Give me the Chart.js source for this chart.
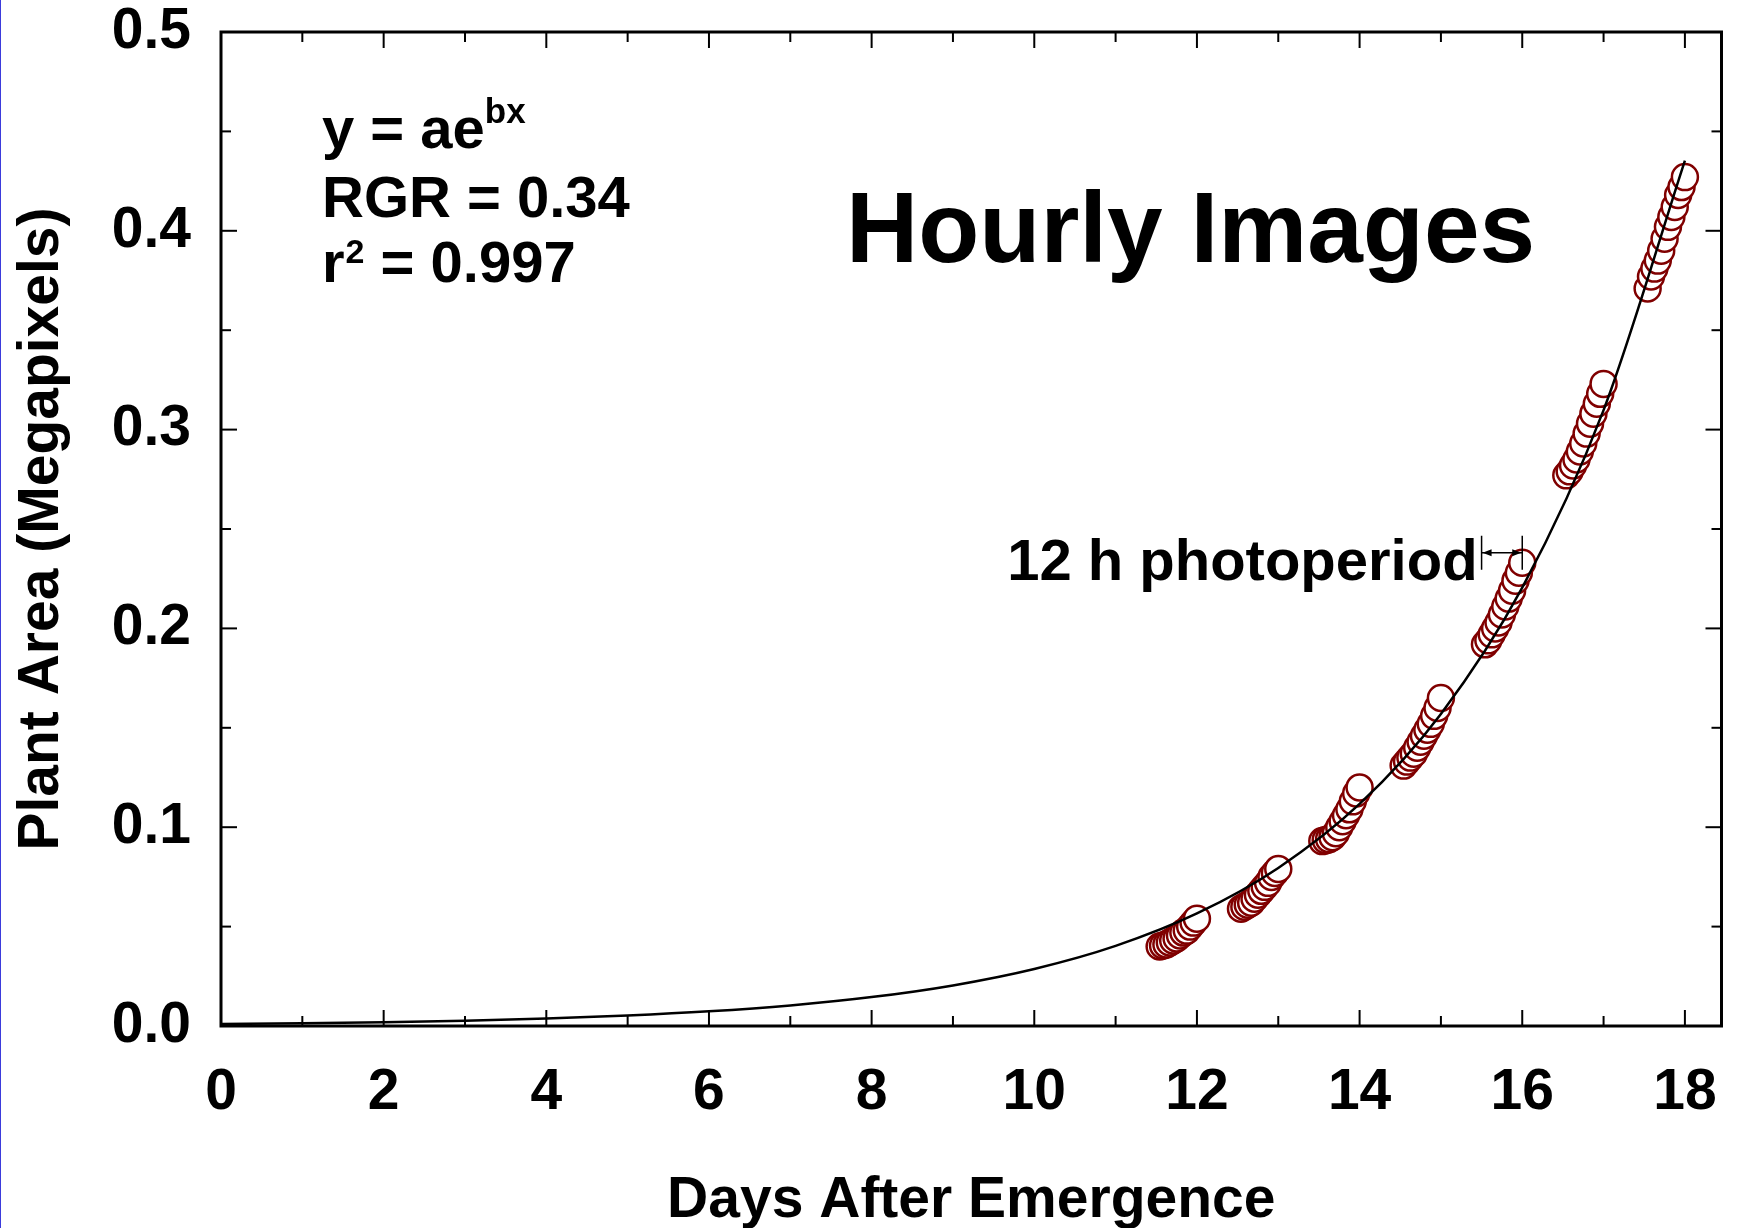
<!DOCTYPE html>
<html>
<head>
<meta charset="utf-8">
<title>Plant Area - Hourly Images</title>
<script src="https://cdn.jsdelivr.net/npm/chart.js@4.4.1/dist/chart.umd.min.js"></script>
<style>
  html, body { margin: 0; padding: 0; background: #fff; }
  #wrap { position: relative; width: 1737px; height: 1228px; }
  #edge { position: absolute; left: 0; top: 0; width: 1px; height: 1228px; background: #3b3bdc; }
</style>
</head>
<body>
<div id="wrap">
  <canvas id="growth"></canvas>
  <div id="edge"></div>
</div>
<script>
// axis ticks
const dayTicks = [0, 2, 4, 6, 8, 10, 12, 14, 16, 18];
const areaTicks = [0, 0.1, 0.2, 0.3, 0.4, 0.5];

// images were taken hourly during the light period of each day
const imageDays = [11, 12, 13, 14, 15, 16, 17];
const imageHours = [13, 14, 15, 16, 17, 18, 19, 20, 21, 22, 23, 24];

// plant area (megapixels), one list per day
const day11Area = [0.040, 0.0405, 0.041, 0.042, 0.043, 0.044, 0.0455, 0.047, 0.048, 0.050, 0.052, 0.054];
const day12Area = [0.059, 0.060, 0.061, 0.062, 0.064, 0.066, 0.068, 0.070, 0.072, 0.075, 0.077, 0.079];
const day13Area = [0.093, 0.0935, 0.094, 0.095, 0.097, 0.100, 0.103, 0.106, 0.109, 0.113, 0.117, 0.120];
const day14Area = [0.131, 0.133, 0.135, 0.137, 0.140, 0.143, 0.146, 0.149, 0.152, 0.156, 0.160, 0.165];
const day15Area = [0.192, 0.194, 0.197, 0.200, 0.203, 0.207, 0.211, 0.215, 0.219, 0.224, 0.228, 0.233];
const day16Area = [0.277, 0.279, 0.282, 0.285, 0.289, 0.293, 0.298, 0.303, 0.308, 0.313, 0.318, 0.323];
const day17Area = [0.371, 0.377, 0.381, 0.385, 0.390, 0.396, 0.402, 0.407, 0.412, 0.418, 0.422, 0.427];
const areaByDay = [day11Area, day12Area, day13Area, day14Area, day15Area, day16Area, day17Area];

// exponential fit y = a*e^(bx)
const fitDays = [0, 1, 2, 3, 4, 5, 6, 7, 8, 9, 10, 11, 12, 13, 14, 15, 16, 17, 18];
const fitArea = [0.00096, 0.00134, 0.00189, 0.00265, 0.00373, 0.00524, 0.00736, 0.01034, 0.01453,
  0.02041, 0.02868, 0.04029, 0.05660, 0.07952, 0.1117, 0.1570, 0.2205, 0.3098, 0.4353];

// span of one 12 h light period (days) and the level of its marker
const photoperiodSpan = [15.5, 16.0];
const photoperiodLevel = 0.238;

const FONT = '"Liberation Sans", Arial, Helvetica, sans-serif';
const bold = size => `bold ${size}px ${FONT}`;

const points = [];
imageDays.forEach((day, i) => {
  imageHours.forEach((h, j) => points.push({ x: day + h / 24, y: areaByDay[i][j] }));
});
const curve = fitDays.map((d, i) => ({ x: d, y: fitArea[i] }));

// closed frame with inward major/minor ticks on all four sides
const frame = {
  id: 'frame',
  afterDatasetsDraw(chart) {
    const { ctx, chartArea: a, scales: { x, y } } = chart;
    ctx.save();
    ctx.strokeStyle = '#000';
    ctx.lineWidth = 2;
    const seg = (x1, y1, x2, y2) => {
      ctx.beginPath();
      ctx.moveTo(x1, y1);
      ctx.lineTo(x2, y2);
      ctx.stroke();
    };
    for (let d = 0; d <= 18; d++) {
      const len = dayTicks.includes(d) ? 16 : 10;
      const px = x.getPixelForValue(d);
      seg(px, a.bottom, px, a.bottom - len);
      seg(px, a.top, px, a.top + len);
    }
    for (let i = 0; i <= 10; i++) {
      const len = i % 2 === 0 ? 16 : 10;
      const py = y.getPixelForValue(i * 0.05);
      seg(a.left, py, a.left + len, py);
      seg(a.right, py, a.right - len, py);
    }
    ctx.lineWidth = 3;
    ctx.strokeRect(a.left, a.top, a.right - a.left, a.bottom - a.top);
    ctx.restore();
  }
};

// fit statistics, panel title and photoperiod marker
const notes = {
  id: 'notes',
  afterDraw(chart) {
    const { ctx, chartArea: a, scales: { x, y } } = chart;
    ctx.save();
    ctx.fillStyle = '#000';
    ctx.strokeStyle = '#000';
    ctx.textBaseline = 'alphabetic';
    ctx.textAlign = 'left';

    const left = a.left + 101;
    ctx.font = bold(58);
    ctx.fillText('y = ae', left, a.top + 116);
    let w = ctx.measureText('y = ae').width;
    ctx.font = bold(35);
    ctx.fillText('bx', left + w, a.top + 91);

    ctx.font = bold(58);
    ctx.fillText('RGR = 0.34', left, a.top + 185);

    ctx.fillText('r', left, a.top + 250);
    w = ctx.measureText('r').width;
    ctx.font = bold(34);
    ctx.fillText('2', left + w + 1, a.top + 231);
    const w2 = ctx.measureText('2').width;
    ctx.font = bold(58);
    ctx.fillText(' = 0.997', left + w + 1 + w2, a.top + 250);

    ctx.font = bold(100);
    ctx.fillText('Hourly Images', a.left + 625, a.top + 230);

    // 12 h marker: |<-->| spanning the light period
    const x1 = x.getPixelForValue(photoperiodSpan[0]);
    const x2 = x.getPixelForValue(photoperiodSpan[1]);
    const py = y.getPixelForValue(photoperiodLevel);
    ctx.lineWidth = 1.5;
    ctx.beginPath();
    ctx.moveTo(x1, py - 17); ctx.lineTo(x1, py + 17);
    ctx.moveTo(x2, py - 17); ctx.lineTo(x2, py + 17);
    ctx.moveTo(x1, py); ctx.lineTo(x2, py);
    ctx.stroke();
    ctx.beginPath();
    ctx.moveTo(x1 + 1, py); ctx.lineTo(x1 + 10, py - 3.5); ctx.lineTo(x1 + 10, py + 3.5); ctx.closePath();
    ctx.moveTo(x2 - 1, py); ctx.lineTo(x2 - 10, py - 3.5); ctx.lineTo(x2 - 10, py + 3.5); ctx.closePath();
    ctx.fill();

    ctx.font = bold(58);
    ctx.textAlign = 'right';
    ctx.fillText('12 h photoperiod', x1 - 4, py + 27);
    ctx.restore();
  }
};

const noPadding = s => {
  s.paddingTop = 0; s.paddingBottom = 0; s.paddingLeft = 0; s.paddingRight = 0;
};

new Chart(document.getElementById('growth'), {
  type: 'scatter',
  data: {
    datasets: [
      {
        label: 'Exponential fit',
        data: curve,
        showLine: true,
        borderColor: '#000',
        borderWidth: 2.5,
        pointRadius: 0,
        cubicInterpolationMode: 'monotone',
        order: 0
      },
      {
        label: 'Plant area',
        data: points,
        pointStyle: 'circle',
        pointRadius: 13,
        pointBorderWidth: 2.5,
        borderColor: '#800000',
        backgroundColor: '#fff',
        pointBackgroundColor: '#fff',
        showLine: false,
        order: 1
      }
    ]
  },
  options: {
    responsive: true,
    maintainAspectRatio: false,
    animation: false,
    layout: { padding: { left: 0, top: 32, right: 9, bottom: 0 } },
    plugins: {
      legend: { display: false },
      tooltip: { enabled: false }
    },
    scales: {
      x: {
        type: 'linear',
        min: 0,
        max: 18.45,
        afterBuildTicks: s => { s.ticks = dayTicks.map(v => ({ value: v })); },
        afterFit: s => { s.height = 202; noPadding(s); },
        grid: { display: false, drawTicks: false },
        border: { display: false },
        ticks: {
          color: '#000',
          padding: 33,
          autoSkip: false,
          maxRotation: 0,
          font: { family: FONT, size: 57, weight: 'bold' }
        },
        title: {
          display: true,
          text: 'Days After Emergence',
          color: '#000',
          padding: { top: 0, bottom: 4 },
          font: { family: FONT, size: 57, weight: 'bold', lineHeight: 0.8 }
        }
      },
      y: {
        type: 'linear',
        min: 0,
        max: 0.5,
        afterBuildTicks: s => { s.ticks = areaTicks.map(v => ({ value: v })); },
        afterFit: s => { s.width = 221; noPadding(s); },
        grid: { display: false, drawTicks: false },
        border: { display: false },
        ticks: {
          color: '#000',
          padding: 30,
          callback: v => v.toFixed(1),
          font: { family: FONT, size: 57, weight: 'bold' }
        },
        title: {
          display: true,
          text: 'Plant Area (Megapixels)',
          color: '#000',
          padding: { top: 14, bottom: 0 },
          font: { family: FONT, size: 57, weight: 'bold', lineHeight: 1 }
        }
      }
    }
  },
  plugins: [frame, notes]
});
</script>
</body>
</html>
